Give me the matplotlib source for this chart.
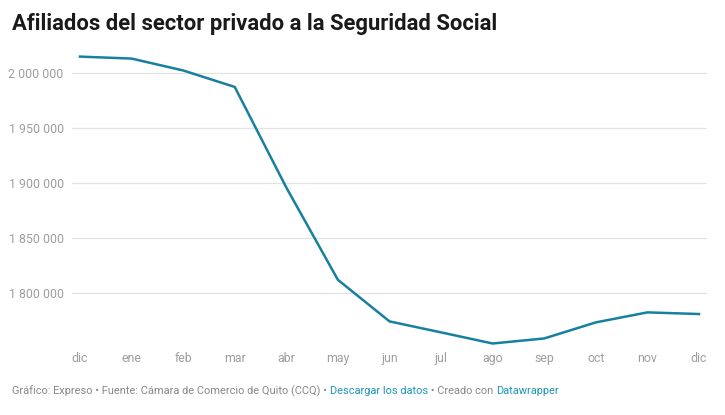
import matplotlib
matplotlib.use("Agg")
import matplotlib.pyplot as plt
from matplotlib.ticker import FuncFormatter

months = ["dic", "ene", "feb", "mar", "abr", "may", "jun",
          "jul", "ago", "sep", "oct", "nov", "dic"]
afiliados = [2014600, 2012800, 2002000, 1987000, 1895500, 1811600, 1773800,
             1763800, 1753700, 1758300, 1772900, 1782000, 1780500]
yticks = [1800000, 1850000, 1900000, 1950000, 2000000]

title = "Afiliados del sector privado a la Seguridad Social"
footer = [("Gráfico: Expreso • Fuente: Cámara de Comercio de Quito (CCQ) • ", "#888888"),
          ("Descargar los datos", "#1d96b8"),
          (" • Creado con ", "#888888"),
          ("Datawrapper", "#1d96b8")]

plt.rcParams['font.family'] = ['Roboto', 'DejaVu Sans']

W, H = 725, 415
fig = plt.figure(figsize=(W / 100, H / 100), dpi=100)

# axes placed by pixel box
left, right, top, bottom = 72, 707, 56.6, 343.5
ax = fig.add_axes([left / W, 1 - bottom / H, (right - left) / W, (bottom - top) / H])

x = list(range(len(months)))
ax.plot(x, afiliados, color="#17809f", lw=1.8, clip_on=False, zorder=3)

ax.set_xlim(-0.155, 12.155)
ax.set_ylim(min(afiliados), max(afiliados))
ax.set_yticks(yticks)
ax.set_xticks(x)
ax.set_xticklabels(months)
ax.yaxis.set_major_formatter(FuncFormatter(lambda v, p: f"{int(v):,}".replace(",", " ")))

ax.grid(axis="y", color="#e3e3e3", lw=0.9)
ax.set_axisbelow(True)
for s in ax.spines.values():
    s.set_visible(False)
ax.tick_params(axis="both", length=0, colors="#9e9e9e", labelsize=8.9)
ax.tick_params(axis="x", pad=6)
ax.tick_params(axis="y", pad=6)

fig.text(12 / W, 1 - 24 / H, title, fontsize=15.8, fontweight="bold",
         color="#1a1a1a", va="center", ha="left")

# footer: pieces in two colours, laid one after the other
fig.canvas.draw()
r = fig.canvas.get_renderer()
xpos = 12
for txt, col in footer:
    t = fig.text(xpos / W, 1 - 391 / H, txt, fontsize=7.9, color=col,
                 va="center", ha="left")
    xpos = t.get_window_extent(r).x1

fig.savefig("out.png", dpi=100)
